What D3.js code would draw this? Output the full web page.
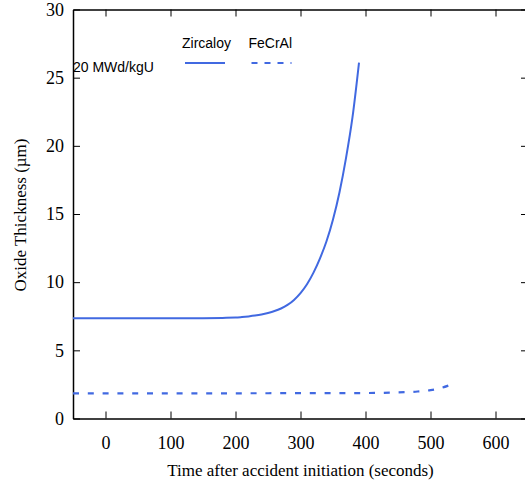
<!DOCTYPE html>
<html>
<head>
<meta charset="utf-8">
<script src="https://cdn.jsdelivr.net/npm/d3@7"></script>
<style>
  body { margin: 0; background: #fff; }
  svg { display: block; }
</style>
</head>
<body>
<svg id="chart" width="525" height="481"></svg>
<script>
// oxide thickness vs time, 20 MWd/kgU
const zircTime = [-50, 0, 50, 100, 150, 180, 200, 210, 220, 230, 240, 250, 260, 270, 280, 290, 300, 310, 320, 330, 340, 350, 360, 370, 380, 390];
const zircOxide = [7.35, 7.35, 7.35, 7.35, 7.36, 7.38, 7.4, 7.44, 7.49, 7.55, 7.63, 7.74, 7.88, 8.07, 8.33, 8.7, 9.2, 9.85, 10.7, 11.75, 13.0, 14.6, 16.6, 19.1, 22.1, 26.1];

const fecralTime = [-50, 0, 100, 200, 300, 400, 440, 460, 480, 500, 515, 528];
const fecralOxide = [1.85, 1.85, 1.85, 1.85, 1.86, 1.87, 1.9, 1.93, 1.98, 2.08, 2.22, 2.42];

const xTicks = [0, 100, 200, 300, 400, 500, 600];
const yTicks = [0, 5, 10, 15, 20, 25, 30];

const svg = d3.select("#chart");
const width = 525;
const height = 481;
const margin = { top: 9.5, right: -3, bottom: 62.5, left: 73 };
const innerW = width - margin.left - margin.right;
const innerH = height - margin.top - margin.bottom;
const blue = "#4169e1";
const serif = "'Liberation Serif', 'Times New Roman', serif";
const sans = "'Liberation Sans', Arial, sans-serif";

const g = svg.append("g")
  .attr("transform", `translate(${margin.left},${margin.top})`);

const x = d3.scaleLinear().domain([-50, 650]).range([0, innerW]);
const y = d3.scaleLinear().domain([0, 30]).range([innerH, 0]);

// axes, ticks drawn inward
const styleAxis = (sel) => {
  sel.select(".domain").attr("stroke", "#000").attr("stroke-width", 1.5);
  sel.selectAll(".tick line").attr("stroke", "#000").attr("stroke-width", 1);
  sel.selectAll("text").attr("font-family", serif).attr("font-size", 18).attr("fill", "#000");
};

g.append("g")
  .attr("transform", `translate(0,${innerH})`)
  .call(d3.axisBottom(x).tickValues(xTicks).tickSizeInner(-7).tickSizeOuter(0).tickPadding(17.5))
  .call(styleAxis);

g.append("g")
  .call(d3.axisLeft(y).tickValues(yTicks).tickSizeInner(-7).tickSizeOuter(0).tickPadding(9))
  .call(styleAxis);

g.append("g")
  .call(d3.axisTop(x).tickValues(xTicks).tickSizeInner(-7).tickSizeOuter(0).tickFormat(""))
  .call(styleAxis);

g.append("g")
  .attr("transform", `translate(${innerW},0)`)
  .call(d3.axisRight(y).tickValues(yTicks).tickSizeInner(-7).tickSizeOuter(0).tickFormat(""))
  .call(styleAxis);

// lines
const line = d3.line()
  .x((d) => x(d[0]))
  .y((d) => y(d[1]))
  .curve(d3.curveMonotoneX);

g.append("path")
  .datum(zircTime.map((t, i) => [t, zircOxide[i]]))
  .attr("d", line)
  .attr("fill", "none")
  .attr("stroke", blue)
  .attr("stroke-width", 2);

g.append("path")
  .datum(fecralTime.map((t, i) => [t, fecralOxide[i]]))
  .attr("d", line)
  .attr("fill", "none")
  .attr("stroke", blue)
  .attr("stroke-width", 2.2)
  .attr("stroke-dasharray", "6,8.8");

// axis titles
svg.append("text")
  .attr("x", 300.5)
  .attr("y", 476)
  .attr("text-anchor", "middle")
  .attr("font-family", serif)
  .attr("font-size", 17)
  .text("Time after accident initiation (seconds)");

svg.append("text")
  .attr("transform", "translate(26,215) rotate(-90)")
  .attr("text-anchor", "middle")
  .attr("font-family", serif)
  .attr("font-size", 17)
  .text("Oxide Thickness (µm)");

// legend
svg.append("text")
  .attr("x", 73)
  .attr("y", 72)
  .attr("font-family", sans)
  .attr("font-size", 14)
  .text("20 MWd/kgU");

const legend = [
  { name: "Zircaloy", x: 182, dash: null },
  { name: "FeCrAl", x: 248.5, dash: "6,7" }
];

legend.forEach((d) => {
  svg.append("text")
    .attr("x", d.x)
    .attr("y", 48)
    .attr("font-family", sans)
    .attr("font-size", 14)
    .text(d.name);
  svg.append("line")
    .attr("x1", d.x + 3)
    .attr("x2", d.x + 43)
    .attr("y1", 63)
    .attr("y2", 63)
    .attr("stroke", blue)
    .attr("stroke-width", 2)
    .attr("stroke-dasharray", d.dash);
});
</script>
</body>
</html>
